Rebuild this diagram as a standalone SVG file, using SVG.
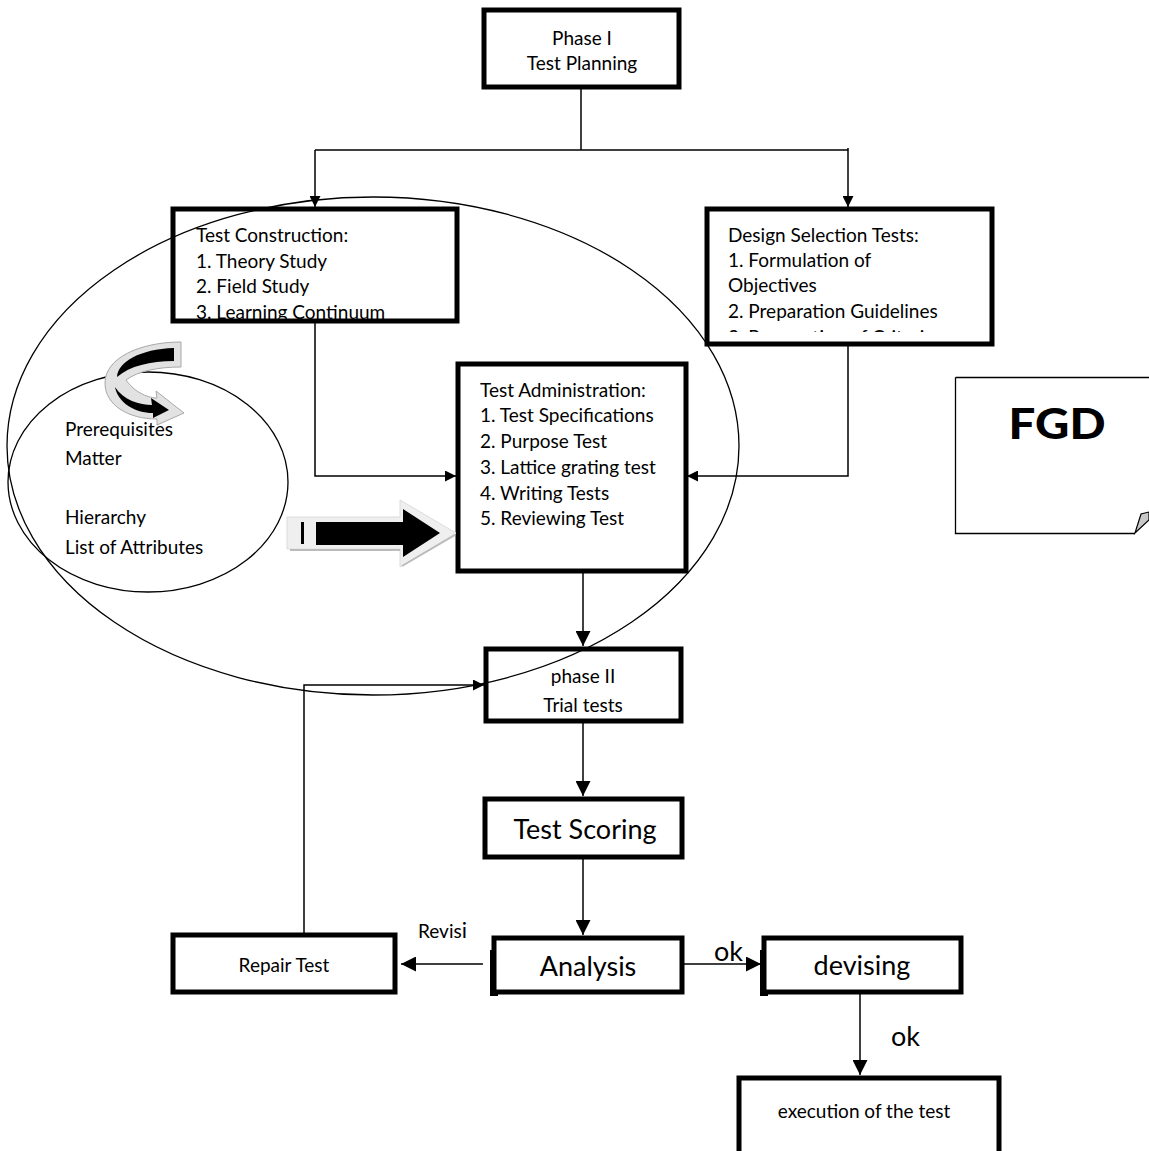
<svg xmlns="http://www.w3.org/2000/svg" width="1149" height="1151" viewBox="0 0 1149 1151">
<style>
.box{fill:#fff;stroke:#000;stroke-width:5}
.sh{fill:#000}
.t{font-family:Lato,"Liberation Sans",sans-serif;fill:#000;font-size:19px}
.c{text-anchor:middle}
.big{font-size:27px}
.ok{font-size:27px}
.ln{fill:none;stroke:#000;stroke-width:1.5}
.thin{fill:none;stroke:#000;stroke-width:1.3}
</style>
<defs>
<marker id="ah" viewBox="0 0 10 10" refX="10" refY="5" markerWidth="11" markerHeight="11" markerUnits="userSpaceOnUse" orient="auto">
<path d="M0,0 L10,5 L0,10 z" fill="#000"/>
</marker>
<marker id="ahb" viewBox="0 0 10 10" refX="10" refY="5" markerWidth="15" markerHeight="15" markerUnits="userSpaceOnUse" orient="auto">
<path d="M0,0 L10,5 L0,10 z" fill="#000"/>
</marker>
<clipPath id="clipTC"><rect x="172" y="208" width="286" height="112"/></clipPath>
<clipPath id="clipDS"><rect x="706" y="208" width="287" height="124"/></clipPath>
</defs>

<g id="connectors">
<path class="ln" d="M581,88 V150"/>
<path class="ln" d="M315,150 H848"/>
<path class="ln" d="M315,150 V207" marker-end="url(#ah)"/>
<path class="ln" d="M848,148 V207" marker-end="url(#ah)"/>
<path class="ln" d="M315,322 V476 H456" marker-end="url(#ah)"/>
<path class="ln" d="M848,345 V476 H687" marker-end="url(#ah)"/>
<path class="ln" d="M583,572 V646" marker-end="url(#ahb)"/>
<path class="ln" d="M583,722 V796" marker-end="url(#ahb)"/>
<path class="ln" d="M583,858 V935" marker-end="url(#ahb)"/>
<path class="ln" d="M483,964 H401" marker-end="url(#ahb)"/>
<path class="ln" d="M683,964 H761" marker-end="url(#ahb)"/>
<path class="ln" d="M860,993 V1075" marker-end="url(#ahb)"/>
<path class="ln" d="M304,934 V685 H484" marker-end="url(#ah)"/>
<text class="t" x="418" y="938">Revis<tspan font-size="22">i</tspan></text>
<text class="t ok" x="714" y="961">ok</text>
<text class="t ok" x="891" y="1046">ok</text>
</g>

<g id="phase1">
<rect class="box" x="484" y="10" width="195" height="77"/>
<text class="t c" x="582" y="45">Phase I</text>
<text class="t c" x="582" y="70">Test Planning</text>
</g>

<g id="test-construction">
<rect class="box" x="173" y="209" width="284" height="112"/>
<g clip-path="url(#clipTC)">
<text class="t" x="196" y="242">Test Construction:</text>
<text class="t" x="196" y="268">1. Theory Study</text>
<text class="t" x="196" y="293">2. Field Study</text>
<text class="t" x="196" y="319">3. Learning Continuum</text>
</g>
</g>

<g id="design-selection">
<rect class="box" x="707" y="209" width="285" height="135"/>
<g clip-path="url(#clipDS)">
<text class="t" x="728" y="242">Design Selection Tests:</text>
<text class="t" x="728" y="267">1. Formulation of</text>
<text class="t" x="728" y="292">Objectives</text>
<text class="t" x="728" y="318">2. Preparation Guidelines</text>
<text class="t" x="728" y="344">3. Preparation of Criteria</text>
</g>
</g>

<g id="test-administration">
<rect class="box" x="458" y="364" width="228" height="207"/>
<text class="t" x="480" y="397">Test Administration:</text>
<text class="t" x="480" y="422">1. Test Specifications</text>
<text class="t" x="480" y="448">2. Purpose Test</text>
<text class="t" x="480" y="474">3. Lattice grating test</text>
<text class="t" x="480" y="500">4. Writing Tests</text>
<text class="t" x="480" y="525">5. Reviewing Test</text>
</g>

<g id="phase2">
<rect class="box" x="486" y="649" width="195" height="72"/>
<text class="t c" x="583" y="683">phase II</text>
<text class="t c" x="583" y="712">Trial tests</text>
</g>

<g id="test-scoring">
<rect class="box" x="485" y="799" width="197" height="58"/>
<text class="t c big" x="585" y="839">Test Scoring</text>
</g>

<g id="analysis">
<rect class="sh" x="490" y="950" width="8" height="46"/>
<rect class="box" x="494" y="938" width="188" height="54"/>
<text class="t c big" x="588" y="976">Analysis</text>
</g>

<g id="repair-test">
<rect class="box" x="173" y="935" width="222" height="57"/>
<text class="t c" x="284" y="972">Repair Test</text>
</g>

<g id="devising">
<rect class="sh" x="760" y="950" width="8" height="46"/>
<rect class="box" x="764" y="938" width="197" height="54"/>
<text class="t c big" x="862" y="975">devising</text>
</g>

<g id="execution">
<rect class="box" x="739" y="1078" width="260" height="80"/>
<text class="t c" x="864" y="1118">execution of the test</text>
</g>

<g id="fgd">
<path d="M955.5,377.5 H1149 M955.5,377.5 V533.5 H1135" fill="none" stroke="#000" stroke-width="1.3"/>
<path d="M1135,533 L1141,514 L1149,512 L1149,520 Z" fill="#c8c8c8" stroke="#000" stroke-width="1.2"/>
<text x="1057" y="439" text-anchor="middle" font-family="Lato,'Liberation Sans',sans-serif" font-weight="900" font-size="42" textLength="97" lengthAdjust="spacingAndGlyphs" fill="#000">FGD</text>
</g>

<g id="big-ellipse">
<ellipse class="thin" cx="373" cy="446" rx="366" ry="249"/>
</g>

<g id="small-ellipse">
<ellipse class="thin" cx="148" cy="482" rx="140" ry="110"/>
<text class="t" x="65" y="436">Prerequisites</text>
<text class="t" x="65" y="465">Matter</text>
<text class="t" x="65" y="524">Hierarchy</text>
<text class="t" x="65" y="554">List of Attributes</text>
</g>

<g id="curved-arrow">
<path d="M181,342 L181,367 C158,367 138,371 126,380 C136,394 150,398 157,398 L156,391 L184,413 L157,425 L157,419 C128,419 105,405 105,383 C105,358 140,342 181,342 Z" fill="#e2e2e2" stroke="#a8a8a8" stroke-width="1"/>
<path d="M174,348 L174,361 C150,361 130,366 117,377 C118,362 140,349 174,348 Z" fill="#000"/>
<path d="M115,387 C123,400 140,405 152,405 L151,398 L169,410 L153,418 L153,413 C135,413 118,403 115,387 Z" fill="#000"/>
</g>

<g id="block-arrow">
<path d="M287,517 H400 V500 L456,533 L400,567 V549 H287 Z" fill="#efefef" stroke="#dcdcdc" stroke-width="1"/>
<path d="M316,522 H403 V509 L440,533 L403,557 V545 H316 Z" fill="#000"/>
<rect x="301" y="522" width="3" height="22" fill="#000"/>
<path d="M290,550 H400 M402,566 L455,535" stroke="#bbb" stroke-width="2" fill="none"/>
</g>
</svg>
